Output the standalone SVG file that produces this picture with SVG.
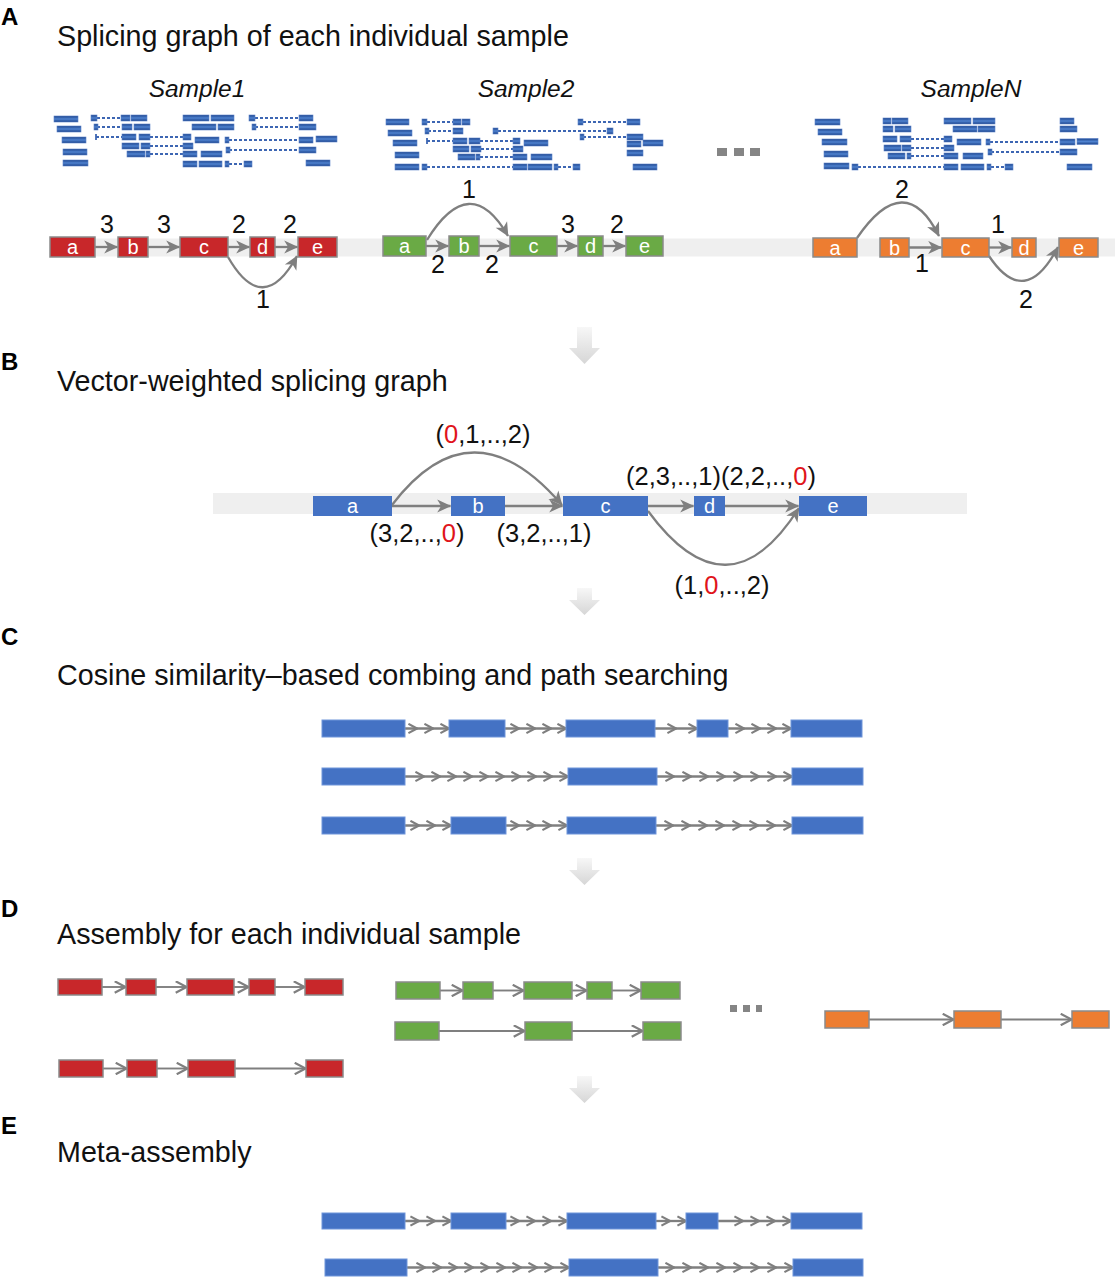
<svg xmlns="http://www.w3.org/2000/svg" width="1117" height="1280" viewBox="0 0 1117 1280">
<style>
text{font-family:"Liberation Sans",Arial,Helvetica,sans-serif}
.lt{font-size:24px;font-weight:bold;fill:#000}
.tt{font-size:28.7px;fill:#111}
.sl{font-size:24.5px;font-style:italic;fill:#111;text-anchor:middle}
.nm{font-size:25px;fill:#111;text-anchor:middle}
.vl{font-size:25.5px;fill:#111}
.red{fill:#e0141b}
.bl{font-size:20px;fill:#fff;text-anchor:middle}
.band{fill:#efefef}
.r{fill:#c8272a;stroke:#8a8a8a;stroke-width:1.5}
.gn{fill:#6aaa45;stroke:#8a8a8a;stroke-width:1.5}
.o{fill:#ed7d31;stroke:#8a8a8a;stroke-width:1.5}
.bb{fill:#4472c4}
.bc{fill:#4472c4;stroke:#6f95da;stroke-width:1}
.gt{fill:url(#gtg);stroke:#5d82c8;stroke-width:0.6}
.dl{stroke:#3d66b3;stroke-width:1.8;stroke-dasharray:3 2;fill:none}
.tk{stroke:#3d66b3;stroke-width:1.8}
.ca{stroke:#7f7f7f;stroke-width:2.3;fill:none;marker-end:url(#ah)}
.cc{stroke:#7f7f7f;stroke-width:2.3;fill:none;marker-mid:url(#ch);marker-end:url(#ch)}
.cd{stroke:#7f7f7f;stroke-width:1.9;fill:none;marker-end:url(#ad)}
.dot{fill:#858585}
.dn{fill:url(#dng)}
</style>
<defs>
<linearGradient id="gtg" x1="0" y1="0" x2="0" y2="1">
<stop offset="0" stop-color="#1b438c"/><stop offset="0.5" stop-color="#4f82cf"/><stop offset="1" stop-color="#1b438c"/>
</linearGradient>
<linearGradient id="dng" x1="0" y1="0" x2="0" y2="1">
<stop offset="0" stop-color="#f7f7f7"/><stop offset="1" stop-color="#d6d6d6"/>
</linearGradient>
<marker id="ah" viewBox="0 0 10 10" markerUnits="userSpaceOnUse" markerWidth="15" markerHeight="14" refX="9.5" refY="5" orient="auto">
<path d="M0,0.3 L10,5 L0,9.7 L2.8,5 z" fill="#7f7f7f"/>
</marker>
<marker id="ch" viewBox="0 0 10 10" markerUnits="userSpaceOnUse" markerWidth="11" markerHeight="12" refX="8.8" refY="5" orient="auto">
<path d="M1,0.8 L8.8,5 L1,9.2" fill="none" stroke="#7f7f7f" stroke-width="2"/>
</marker>
<marker id="ad" viewBox="0 0 10 10" markerUnits="userSpaceOnUse" markerWidth="13" markerHeight="13" refX="9.3" refY="5" orient="auto">
<path d="M1,0.6 L9.3,5 L1,9.4" fill="none" stroke="#7f7f7f" stroke-width="1.7"/>
</marker>
</defs>
<rect width="1117" height="1280" fill="#fff"/>

<!-- Section labels and titles -->
<g id="titles">
<text class="lt" x="1" y="25">A</text>
<text class="tt" x="57" y="46">Splicing graph of each individual sample</text>
<text class="lt" x="1" y="370">B</text>
<text class="tt" x="57" y="391">Vector-weighted splicing graph</text>
<text class="lt" x="1" y="645">C</text>
<text class="tt" x="57" y="685">Cosine similarity–based combing and path searching</text>
<text class="lt" x="1" y="917">D</text>
<text class="tt" x="57" y="944">Assembly for each individual sample</text>
<text class="lt" x="1" y="1134">E</text>
<text class="tt" x="57" y="1162">Meta-assembly</text>
<text class="sl" x="197" y="97">Sample1</text>
<text class="sl" x="526" y="97">Sample2</text>
<text class="sl" x="971" y="97">SampleN</text>
</g>

<!-- Gene tracks -->
<g id="tracks1">
<rect class="gt" x="54" y="116" width="24" height="6"/><rect class="gt" x="57" y="126" width="24" height="6"/><rect class="gt" x="62" y="137" width="24" height="6"/><rect class="gt" x="63" y="149" width="24" height="6"/><rect class="gt" x="63" y="160" width="25" height="6"/>
<line class="dl" x1="97" y1="118" x2="121" y2="118"/><rect class="gt" x="91" y="115" width="6" height="6"/><rect class="gt" x="121" y="115" width="9" height="6"/><rect class="gt" x="131" y="115" width="16" height="6"/><rect class="gt" x="183" y="115" width="26" height="6"/><rect class="gt" x="211" y="115" width="23" height="6"/><line class="dl" x1="255" y1="118" x2="299" y2="118"/><rect class="gt" x="249" y="115" width="6" height="6"/><rect class="gt" x="299" y="115" width="14" height="6"/>
<line class="dl" x1="97" y1="127" x2="122" y2="127"/><rect class="gt" x="94" y="124" width="4" height="6"/><rect class="gt" x="122" y="124" width="10" height="6"/><rect class="gt" x="134" y="124" width="16" height="6"/><rect class="gt" x="192" y="124" width="24" height="6"/><rect class="gt" x="218" y="124" width="16" height="6"/><line class="dl" x1="255" y1="127" x2="299" y2="127"/><rect class="gt" x="252" y="124" width="4" height="6"/><rect class="gt" x="299" y="124" width="17" height="6"/>
<line class="tk" x1="96" y1="134" x2="96" y2="140"/><line class="dl" x1="96" y1="137" x2="122" y2="137"/><rect class="gt" x="122" y="134" width="14" height="6"/><rect class="gt" x="139" y="134" width="11" height="6"/><line class="dl" x1="150" y1="137" x2="183" y2="137"/><rect class="gt" x="183" y="134" width="8" height="6"/>
<rect class="gt" x="195" y="137" width="24" height="6"/><line class="dl" x1="229" y1="140" x2="299" y2="140"/><rect class="gt" x="225" y="137" width="4" height="6"/><rect class="gt" x="299" y="137" width="14" height="6"/><rect class="gt" x="316" y="136" width="21" height="6"/>
<rect class="gt" x="122" y="143" width="17" height="6"/><rect class="gt" x="141" y="143" width="9" height="6"/><line class="dl" x1="150" y1="146" x2="183" y2="146"/><rect class="gt" x="183" y="143" width="10" height="6"/>
<line class="dl" x1="229" y1="150" x2="299" y2="150"/><rect class="gt" x="226" y="147" width="4" height="6"/><rect class="gt" x="299" y="147" width="17" height="6"/>
<rect class="gt" x="127" y="151" width="18" height="6"/><rect class="gt" x="146" y="151" width="4" height="6"/><line class="dl" x1="150" y1="154" x2="183" y2="154"/><rect class="gt" x="183" y="151" width="14" height="6"/><rect class="gt" x="201" y="151" width="21" height="6"/>
<rect class="gt" x="183" y="161" width="14" height="6"/><rect class="gt" x="199" y="161" width="23" height="6"/><line class="dl" x1="229" y1="164" x2="244" y2="164"/><rect class="gt" x="225" y="161" width="4" height="6"/><rect class="gt" x="244" y="161" width="8" height="6"/><rect class="gt" x="306" y="160" width="24" height="6"/>
</g>
<g id="tracks2">
<rect class="gt" x="386" y="119" width="23" height="6"/><rect class="gt" x="388" y="130" width="24" height="6"/><rect class="gt" x="393" y="140" width="24" height="6"/><rect class="gt" x="395" y="152" width="24" height="6"/><rect class="gt" x="395" y="164" width="24" height="6"/>
<line class="dl" x1="427" y1="122" x2="453" y2="122"/><rect class="gt" x="422" y="119" width="5" height="6"/><rect class="gt" x="453" y="119" width="8" height="6"/><rect class="gt" x="462" y="119" width="8" height="6"/><line class="dl" x1="583" y1="122" x2="627" y2="122"/><rect class="gt" x="578" y="119" width="5" height="6"/><rect class="gt" x="627" y="119" width="13" height="6"/>
<line class="dl" x1="428" y1="131" x2="453" y2="131"/><rect class="gt" x="425" y="128" width="4" height="6"/><rect class="gt" x="453" y="128" width="10" height="6"/><line class="dl" x1="498" y1="131" x2="607" y2="131"/><rect class="gt" x="493" y="128" width="5" height="6"/><rect class="gt" x="607" y="128" width="6" height="6"/>
<line class="dl" x1="583" y1="137" x2="627" y2="137"/><rect class="gt" x="580" y="134" width="4" height="6"/><rect class="gt" x="627" y="134" width="16" height="6"/>
<line class="tk" x1="427" y1="138" x2="427" y2="144"/><line class="dl" x1="427" y1="141" x2="453" y2="141"/><rect class="gt" x="453" y="138" width="14" height="6"/><rect class="gt" x="469" y="138" width="11" height="6"/><line class="dl" x1="480" y1="141" x2="513" y2="141"/><rect class="gt" x="513" y="138" width="7" height="6"/>
<rect class="gt" x="524" y="140" width="24" height="6"/><rect class="gt" x="627" y="141" width="14" height="6"/><rect class="gt" x="643" y="140" width="20" height="6"/>
<rect class="gt" x="453" y="146" width="16" height="6"/><rect class="gt" x="471" y="146" width="10" height="6"/><line class="dl" x1="481" y1="149" x2="513" y2="149"/><rect class="gt" x="513" y="146" width="10" height="6"/>
<rect class="gt" x="627" y="150" width="16" height="6"/>
<rect class="gt" x="458" y="154" width="17" height="6"/><rect class="gt" x="476" y="154" width="4" height="6"/><line class="dl" x1="480" y1="157" x2="513" y2="157"/><rect class="gt" x="513" y="154" width="14" height="6"/><rect class="gt" x="531" y="154" width="21" height="6"/>
<line class="dl" x1="427" y1="167" x2="513" y2="167"/><rect class="gt" x="422" y="164" width="5" height="6"/><rect class="gt" x="513" y="164" width="14" height="6"/><rect class="gt" x="528" y="164" width="24" height="6"/><line class="dl" x1="558" y1="167" x2="573" y2="167"/><rect class="gt" x="554" y="164" width="4" height="6"/><rect class="gt" x="573" y="164" width="7" height="6"/><rect class="gt" x="633" y="164" width="24" height="6"/>
</g>
<g id="tracksN">
<rect class="gt" x="815" y="119" width="25" height="6"/><rect class="gt" x="818" y="129" width="24" height="6"/><rect class="gt" x="822" y="139" width="25" height="6"/><rect class="gt" x="824" y="151" width="24" height="6"/><rect class="gt" x="824" y="163" width="25" height="6"/>
<rect class="gt" x="883" y="118" width="8" height="6"/><rect class="gt" x="892" y="118" width="16" height="6"/><rect class="gt" x="944" y="118" width="27" height="6"/><rect class="gt" x="973" y="118" width="22" height="6"/><rect class="gt" x="1060" y="118" width="14" height="6"/>
<rect class="gt" x="883" y="126" width="10" height="6"/><rect class="gt" x="895" y="126" width="16" height="6"/><rect class="gt" x="953" y="126" width="24" height="6"/><rect class="gt" x="978" y="126" width="17" height="6"/><rect class="gt" x="1060" y="126" width="17" height="6"/>
<rect class="gt" x="883" y="136" width="14" height="6"/><rect class="gt" x="900" y="136" width="11" height="6"/><line class="dl" x1="911" y1="139" x2="944" y2="139"/><rect class="gt" x="944" y="136" width="8" height="6"/>
<rect class="gt" x="957" y="139" width="24" height="6"/><line class="dl" x1="990" y1="142" x2="1060" y2="142"/><rect class="gt" x="986" y="139" width="4" height="6"/><rect class="gt" x="1060" y="139" width="15" height="6"/><rect class="gt" x="1077" y="138.5" width="21" height="6"/>
<rect class="gt" x="884" y="145" width="17" height="6"/><rect class="gt" x="902" y="145" width="9" height="6"/><line class="dl" x1="911" y1="148" x2="944" y2="148"/><rect class="gt" x="944" y="145" width="10" height="6"/>
<line class="dl" x1="991" y1="152" x2="1060" y2="152"/><rect class="gt" x="988" y="149" width="4" height="6"/><rect class="gt" x="1060" y="149" width="17" height="6"/>
<rect class="gt" x="888" y="153" width="17" height="6"/><rect class="gt" x="907" y="153" width="4" height="6"/><line class="dl" x1="911" y1="156" x2="944" y2="156"/><rect class="gt" x="944" y="153" width="14" height="6"/><rect class="gt" x="963" y="153" width="20" height="6"/>
<line class="dl" x1="858" y1="167" x2="944" y2="167"/><rect class="gt" x="852" y="164" width="6" height="6"/><rect class="gt" x="944" y="164" width="14" height="6"/><rect class="gt" x="961" y="164" width="23" height="6"/><line class="dl" x1="991" y1="167" x2="1005" y2="167"/><rect class="gt" x="987" y="164" width="4" height="6"/><rect class="gt" x="1005" y="164" width="8" height="6"/><rect class="gt" x="1067" y="164" width="25" height="6"/>
</g>
<g id="dotsA">
<rect class="dot" x="717" y="148" width="10" height="8"/><rect class="dot" x="734" y="148" width="10" height="8"/><rect class="dot" x="750" y="148" width="10" height="8"/>
</g>

<!-- Bands -->
<rect class="band" x="50" y="238.5" width="1065" height="18"/>
<rect class="band" x="213" y="493" width="754" height="21"/>

<!-- Connectors -->
<g id="connectors">
<!-- A sample1 -->
<line class="ca" x1="95" y1="247" x2="117.5" y2="247"/>
<line class="ca" x1="148" y1="247" x2="179.5" y2="247"/>
<line class="ca" x1="228" y1="247" x2="249.5" y2="247"/>
<line class="ca" x1="275" y1="247" x2="297.5" y2="247"/>
<path class="ca" d="M228,257 Q263,318 297,256"/>
<!-- A sample2 -->
<line class="ca" x1="426" y1="246" x2="448.5" y2="246"/>
<line class="ca" x1="479" y1="246" x2="509.5" y2="246"/>
<line class="ca" x1="557" y1="246" x2="577.5" y2="246"/>
<line class="ca" x1="603" y1="246" x2="625.5" y2="246"/>
<path class="ca" d="M427,240 Q470,170 508,236"/>
<!-- A sampleN -->
<line class="ca" x1="909" y1="247.5" x2="941.5" y2="247.5"/>
<line class="ca" x1="989" y1="247.5" x2="1011.5" y2="247.5"/>
<path class="ca" d="M857,238 Q905,168 939,236"/>
<path class="ca" d="M989,256 Q1025,310 1058,247"/>
<!-- B -->
<line class="ca" x1="392" y1="506" x2="450.5" y2="506"/>
<line class="ca" x1="505" y1="506" x2="562.5" y2="506"/>
<line class="ca" x1="648" y1="506" x2="693.5" y2="506"/>
<line class="ca" x1="725" y1="506" x2="798.5" y2="506"/>
<path class="ca" d="M392,505 Q472,400 562,505"/>
<path class="ca" d="M648,511 Q728,620 799,508"/>
<!-- C -->
<polyline class="cc" points="405,728.5 417,728.5 433,728.5 449,728.5"/>
<polyline class="cc" points="505,728.5 519,728.5 535,728.5 551,728.5 566,728.5"/>
<polyline class="cc" points="655,728.5 676,728.5 697,728.5"/>
<polyline class="cc" points="728,728.5 744,728.5 760,728.5 776,728.5 791,728.5"/>
<polyline class="cc" points="405,776.5 424,776.5 440,776.5 456,776.5 472,776.5 488,776.5 504,776.5 520,776.5 536,776.5 552,776.5 568,776.5"/>
<polyline class="cc" points="657,776.5 674,776.5 691,776.5 708,776.5 725,776.5 742,776.5 759,776.5 776,776.5 792,776.5"/>
<polyline class="cc" points="405,825.5 419,825.5 435,825.5 451,825.5"/>
<polyline class="cc" points="506,825.5 519,825.5 535,825.5 551,825.5 567,825.5"/>
<polyline class="cc" points="656,825.5 673,825.5 690,825.5 707,825.5 724,825.5 741,825.5 758,825.5 775,825.5 792,825.5"/>
<!-- D red -->
<line class="cd" x1="102" y1="987" x2="125.5" y2="987"/>
<line class="cd" x1="156" y1="987" x2="186.5" y2="987"/>
<line class="cd" x1="234" y1="987" x2="248.5" y2="987"/>
<line class="cd" x1="275" y1="987" x2="304.5" y2="987"/>
<line class="cd" x1="103" y1="1068.5" x2="126.5" y2="1068.5"/>
<line class="cd" x1="157" y1="1068.5" x2="187.5" y2="1068.5"/>
<line class="cd" x1="235" y1="1068.5" x2="305.5" y2="1068.5"/>
<!-- D green -->
<line class="cd" x1="440" y1="990.5" x2="462.5" y2="990.5"/>
<line class="cd" x1="493" y1="990.5" x2="523.5" y2="990.5"/>
<line class="cd" x1="572" y1="990.5" x2="586.5" y2="990.5"/>
<line class="cd" x1="612" y1="990.5" x2="640.5" y2="990.5"/>
<line class="cd" x1="439" y1="1031" x2="524.5" y2="1031"/>
<line class="cd" x1="572" y1="1031" x2="642.5" y2="1031"/>
<!-- D orange -->
<line class="cd" x1="869" y1="1019.5" x2="953.5" y2="1019.5"/>
<line class="cd" x1="1001" y1="1019.5" x2="1071.5" y2="1019.5"/>
<!-- E -->
<polyline class="cc" points="405,1221 419,1221 435,1221 451,1221"/>
<polyline class="cc" points="506,1221 519,1221 535,1221 551,1221 567,1221"/>
<polyline class="cc" points="656,1221 670,1221 686,1221"/>
<polyline class="cc" points="718,1221 743,1221 759,1221 775,1221 791,1221"/>
<polyline class="cc" points="407,1267.5 425,1267.5 441,1267.5 457,1267.5 473,1267.5 489,1267.5 505,1267.5 521,1267.5 537,1267.5 553,1267.5 569,1267.5"/>
<polyline class="cc" points="658,1267.5 674,1267.5 691,1267.5 708,1267.5 725,1267.5 742,1267.5 759,1267.5 776,1267.5 793,1267.5"/>
</g>

<!-- Edge weight labels -->
<g id="weights">
<text class="nm" x="107" y="233">3</text>
<text class="nm" x="164" y="233">3</text>
<text class="nm" x="239" y="233">2</text>
<text class="nm" x="290" y="233">2</text>
<text class="nm" x="263" y="308">1</text>
<text class="nm" x="469" y="198">1</text>
<text class="nm" x="438" y="273">2</text>
<text class="nm" x="492" y="273">2</text>
<text class="nm" x="568" y="233">3</text>
<text class="nm" x="617" y="233">2</text>
<text class="nm" x="902" y="198">2</text>
<text class="nm" x="922" y="272">1</text>
<text class="nm" x="998" y="233">1</text>
<text class="nm" x="1026" y="308">2</text>
<text class="vl" x="483" y="443" text-anchor="middle">(<tspan class="red">0</tspan>,1,..,2)</text>
<text class="vl" x="626" y="485">(2,3,..,1)(2,2,..,<tspan class="red">0</tspan>)</text>
<text class="vl" x="417" y="542" text-anchor="middle">(3,2,..,<tspan class="red">0</tspan>)</text>
<text class="vl" x="544" y="542" text-anchor="middle">(3,2,..,1)</text>
<text class="vl" x="722" y="594" text-anchor="middle">(1,<tspan class="red">0</tspan>,..,2)</text>
</g>

<!-- Section A nodes -->
<g id="s1a"><rect class="r" x="50" y="237" width="45" height="20"/><text class="bl" x="72.5" y="254">a</text></g>
<g id="s1b"><rect class="r" x="118" y="237" width="30" height="20"/><text class="bl" x="133" y="254">b</text></g>
<g id="s1c"><rect class="r" x="180" y="237" width="48" height="20"/><text class="bl" x="204" y="254">c</text></g>
<g id="s1d"><rect class="r" x="250" y="237" width="25" height="20"/><text class="bl" x="262.5" y="254">d</text></g>
<g id="s1e"><rect class="r" x="298" y="237" width="39" height="20"/><text class="bl" x="317.5" y="254">e</text></g>
<g id="s2a"><rect class="gn" x="383" y="236" width="43" height="20"/><text class="bl" x="404.5" y="253">a</text></g>
<g id="s2b"><rect class="gn" x="449" y="236" width="30" height="20"/><text class="bl" x="464" y="253">b</text></g>
<g id="s2c"><rect class="gn" x="510" y="236" width="47" height="20"/><text class="bl" x="533.5" y="253">c</text></g>
<g id="s2d"><rect class="gn" x="578" y="236" width="25" height="20"/><text class="bl" x="590.5" y="253">d</text></g>
<g id="s2e"><rect class="gn" x="626" y="236" width="37" height="20"/><text class="bl" x="644.5" y="253">e</text></g>
<g id="sNa"><rect class="o" x="813" y="238" width="44" height="19"/><text class="bl" x="835" y="254.5">a</text></g>
<g id="sNb"><rect class="o" x="880" y="238" width="29" height="19"/><text class="bl" x="894.5" y="254.5">b</text></g>
<g id="sNc"><rect class="o" x="942" y="238" width="47" height="19"/><text class="bl" x="965.5" y="254.5">c</text></g>
<g id="sNd"><rect class="o" x="1012" y="238" width="24" height="19"/><text class="bl" x="1024" y="254.5">d</text></g>
<g id="sNe"><rect class="o" x="1059" y="238" width="39" height="19"/><text class="bl" x="1078.5" y="254.5">e</text></g>

<!-- Section B nodes -->
<g id="Ba"><rect class="bb" x="313" y="496" width="79" height="20"/><text class="bl" x="352.5" y="513">a</text></g>
<g id="Bb"><rect class="bb" x="451" y="496" width="54" height="20"/><text class="bl" x="478" y="513">b</text></g>
<g id="Bc"><rect class="bb" x="563" y="496" width="85" height="20"/><text class="bl" x="605.5" y="513">c</text></g>
<g id="Bd"><rect class="bb" x="694" y="496" width="31" height="20"/><text class="bl" x="709.5" y="513">d</text></g>
<g id="Be"><rect class="bb" x="799" y="496" width="68" height="20"/><text class="bl" x="833" y="513">e</text></g>

<!-- Section C nodes -->
<g id="C1">
<rect class="bc" x="322" y="720" width="83" height="17"/><rect class="bc" x="449" y="720" width="56" height="17"/><rect class="bc" x="566" y="720" width="89" height="17"/><rect class="bc" x="697" y="720" width="31" height="17"/><rect class="bc" x="791" y="720" width="71" height="17"/>
</g>
<g id="C2">
<rect class="bc" x="322" y="768" width="83" height="17"/><rect class="bc" x="568" y="768" width="89" height="17"/><rect class="bc" x="792" y="768" width="71" height="17"/>
</g>
<g id="C3">
<rect class="bc" x="322" y="817" width="83" height="17"/><rect class="bc" x="451" y="817" width="55" height="17"/><rect class="bc" x="567" y="817" width="89" height="17"/><rect class="bc" x="792" y="817" width="71" height="17"/>
</g>

<!-- Section D nodes -->
<g id="D1">
<rect class="r" x="58" y="979" width="44" height="16"/><rect class="r" x="126" y="979" width="30" height="16"/><rect class="r" x="187" y="979" width="47" height="16"/><rect class="r" x="249" y="979" width="26" height="16"/><rect class="r" x="305" y="979" width="38" height="16"/>
</g>
<g id="D2">
<rect class="r" x="59" y="1060" width="44" height="17"/><rect class="r" x="127" y="1060" width="30" height="17"/><rect class="r" x="188" y="1060" width="47" height="17"/><rect class="r" x="306" y="1060" width="37" height="17"/>
</g>
<g id="D3">
<rect class="gn" x="396" y="982" width="44" height="17"/><rect class="gn" x="463" y="982" width="30" height="17"/><rect class="gn" x="524" y="982" width="48" height="17"/><rect class="gn" x="587" y="982" width="25" height="17"/><rect class="gn" x="641" y="982" width="39" height="17"/>
</g>
<g id="D4">
<rect class="gn" x="395" y="1022" width="44" height="18"/><rect class="gn" x="525" y="1022" width="47" height="18"/><rect class="gn" x="643" y="1022" width="38" height="18"/>
</g>
<g id="D5">
<rect class="o" x="825" y="1011" width="44" height="17"/><rect class="o" x="954" y="1011" width="47" height="17"/><rect class="o" x="1072" y="1011" width="37" height="17"/>
</g>
<g id="dotsD">
<rect class="dot" x="730" y="1005" width="7" height="7"/><rect class="dot" x="743" y="1005" width="7" height="7"/><rect class="dot" x="756" y="1005" width="6" height="7"/>
</g>

<!-- Section E nodes -->
<g id="E1">
<rect class="bc" x="322" y="1213" width="83" height="16"/><rect class="bc" x="451" y="1213" width="55" height="16"/><rect class="bc" x="567" y="1213" width="89" height="16"/><rect class="bc" x="686" y="1213" width="32" height="16"/><rect class="bc" x="791" y="1213" width="71" height="16"/>
</g>
<g id="E2">
<rect class="bc" x="325" y="1259" width="82" height="17"/><rect class="bc" x="569" y="1259" width="89" height="17"/><rect class="bc" x="793" y="1259" width="70" height="17"/>
</g>

<!-- Down arrows -->
<g id="downarrows">
<path class="dn" d="M577,327 H592 V348 H600 L584.5,364 L569,348 H577 Z"/>
<path class="dn" d="M577,588 H592 V600 H600 L584.5,615 L569,600 H577 Z"/>
<path class="dn" d="M577,858 H592 V870 H600 L584.5,885 L569,870 H577 Z"/>
<path class="dn" d="M577,1076 H592 V1088 H600 L584.5,1103 L569,1088 H577 Z"/>
</g>
</svg>
